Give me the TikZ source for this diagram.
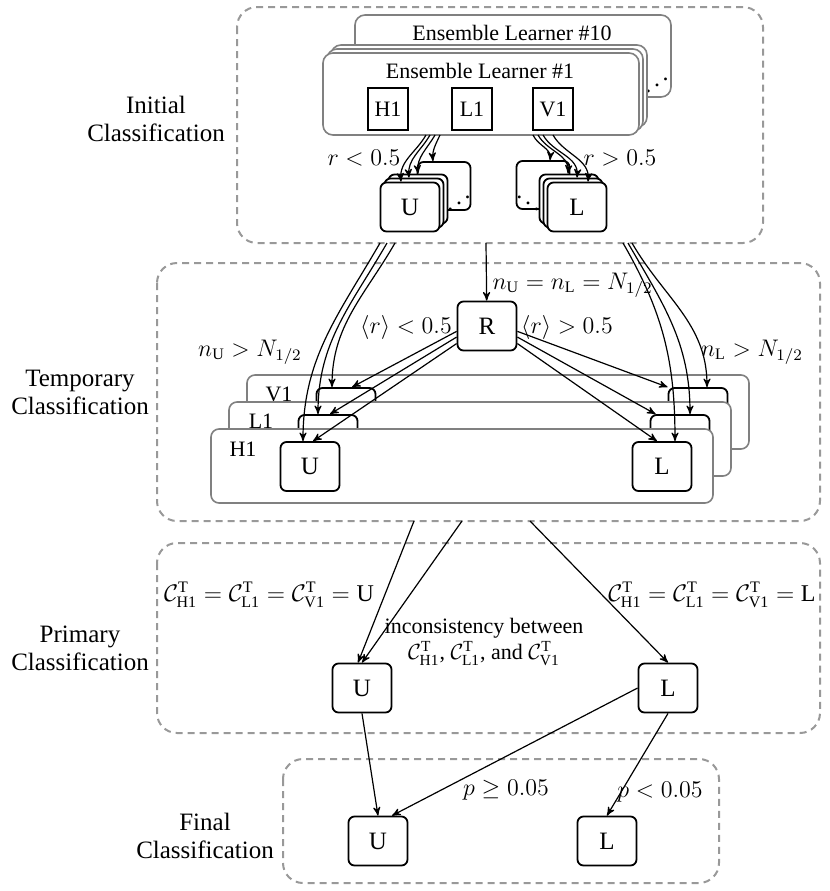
\documentclass[tikz,border=0pt]{standalone}
\usepackage{fontspec}
\setmainfont{Liberation Serif}
\usetikzlibrary{arrows}
\usetikzlibrary{calc}
\usetikzlibrary{positioning}
\tikzset{stage/.style={-, draw=gray!80, line width=1pt, dash pattern=on 3.5pt off 2.5pt, rounded corners=10pt}}
\tikzset{stagelabel/.style={align=center, font=\fontsize{12.5}{14}\selectfont}}
\tikzset{cls/.style={draw, line width=0.9pt, rounded corners=3pt, fill=white, minimum width=29.5pt, minimum height=24.5pt, inner sep=0pt, font=\fontsize{12.5}{14}\selectfont}}
\tikzset{ghost/.style={cls, minimum width=26.5pt, minimum height=24pt}}
\tikzset{learner/.style={draw=gray, line width=0.8pt, rounded corners=5pt, fill=white, minimum width=158pt, minimum height=41pt}}
\tikzset{feat/.style={draw, line width=0.9pt, fill=white, minimum width=20pt, minimum height=21pt, inner sep=0pt, font=\fontsize{11}{13}\selectfont}}
\tikzset{layer/.style={draw=gray, line width=0.8pt, rounded corners=4pt, fill=white, minimum width=251pt, minimum height=37pt}}
\tikzset{small/.style={font=\fontsize{11}{13}\selectfont}}
\tikzset{cond/.style={font=\fontsize{12}{13.5}\selectfont, inner sep=1pt}}
\newcommand{\clsT}[1]{\mathcal{C}^{\mathrm{T}}_{\mathrm{#1}}}

\begin{document}
\begin{tikzpicture}[x=0.5pt,y=0.5pt,->,>=stealth',semithick]
\useasboundingbox (0,0) rectangle (830,-891);

% stages
\draw[stage] (237,-7) rectangle (763,-243);
\draw[stage] (157,-263) rectangle (820,-521);
\draw[stage] (157,-543) rectangle (820,-733);
\draw[stage] (283,-759) rectangle (719,-883);
\node[stagelabel] (lab1) at (156,-119) {Initial\\Classification};
\node[stagelabel] (lab2) at (80,-392) {Temporary\\Classification};
\node[stagelabel] (lab3) at (80,-648) {Primary\\Classification};
\node[stagelabel] (lab4) at (205,-836) {Final\\Classification};

% ensemble learners
\node[learner] (E10) at (513,-56) {};
\node[small] (E10t) at (512,-33) {Ensemble Learner \#10};
\node[cond] (Edots) at (657,-79) {\reflectbox{$\ddots$}};
\foreach \d/\n in {8/c,4/b}
   \node[learner] (E1\n) at ({481+\d},{-94+\d}) {};
\node[learner] (E1) at (481,-94) {};
\node[small] (E1t) at (480,-71) {Ensemble Learner \#1};
\node[feat] (H1) at (388,-109) {H1};
\node[feat] (L1) at (472,-109) {L1};
\node[feat] (V1) at (553,-109) {V1};

% initial U / L
\node[ghost] (Ud) at (444,-186) {};
\node[cond] (Udots) at (459,-197) {\reflectbox{$\ddots$}};
\foreach \d/\n in {8/c,4/b}
   \node[cls] (U0\n) at ({410+\d},{-207+\d}) {};
\node[cls] (U0) at (410,-207) {U};
\node[ghost] (Ld) at (543,-185) {};
\node[cond] (Ldots) at (528,-197) {$\ddots$};
\foreach \d/\n in {8/c,4/b}
   \node[cls] (L0\n) at ({577-\d},{-207+\d}) {};
\node[cls] (L0) at (577,-207) {L};

\coordinate (ea1) at (426,-135);
\coordinate (ea2) at (430,-135);
\coordinate (ea3) at (435,-135);
\coordinate (ea4) at (440,-135);
\coordinate (eb1) at (533,-135);
\coordinate (eb2) at (538,-135);
\coordinate (eb3) at (543,-135);
\coordinate (eb4) at (553,-135);

\path (ea1) edge[out=-120,in=95] ($(U0.north)+(-9,0)$)
      (ea2) edge[out=-120,in=95] ($(U0b.north)+(-5,0)$)
      (ea3) edge[out=-120,in=95] (U0c.north)
      (ea4) edge[out=-115,in=95] ($(Ud.north)+(-11,0)$)
      (eb1) edge[out=-65,in=85] ($(Ld.north)+(7,0)$)
      (eb2) edge[out=-60,in=85] ($(L0c.north)+(-1,0)$)
      (eb3) edge[out=-60,in=85] ($(L0b.north)+(4,0)$)
      (eb4) edge[out=-60,in=85] ($(L0.north)+(11,0)$);
\node[cond] (rlt) at (364,-158) {$r<0.5$};
\node[cond] (rgt) at (620,-158) {$r>0.5$};

% temporary layers
\node[layer] (layv) at (498,-412) {};
\node[small] (labv) at (279,-394) {V1};
\node[cls] (Uv) at (346,-412.5) {};
\node[cls] (Lv) at (698,-412.5) {};
\node[layer] (layl) at (480,-439) {};
\node[small] (labl) at (261,-421) {L1};
\node[cls] (Ul) at (328,-439.5) {};
\node[cls] (Ll) at (680,-439.5) {};
\node[layer] (layh) at (462,-466) {};
\node[small] (labh) at (243,-449) {H1};
\node[cls] (Uh) at (310,-466.5) {U};
\node[cls] (Lh) at (662,-466.5) {L};

\node[cls] (R) at (487,-326) {R};
\coordinate (t0) at (486,-243);
\coordinate (tu1) at (380,-243);
\coordinate (tu2) at (387,-243);
\coordinate (tu3) at (395,-243);
\coordinate (tl1) at (623,-243);
\coordinate (tl2) at (628,-243);
\coordinate (tl3) at (632,-243);

\path (t0) edge (R)
      (tu1) edge[out=-120,in=90] ($(Uh.north)+(-7,0)$)
      (tu2) edge[out=-120,in=90] ($(Ul.north)+(-10,0)$)
      (tu3) edge[out=-120,in=90] ($(Uv.north)+(-14,0)$)
      (R.190) edge ($(Uv.north)+(6,0)$)
      (R.200) edge ($(Ul.north)+(2,0)$)
      (R.210) edge ($(Uh.north)+(3,0)$)
      (tl1) edge[out=-60,in=90] ($(Lh.north)+(13,0)$)
      (tl2) edge[out=-60,in=90] ($(Ll.north)+(10,0)$)
      (tl3) edge[out=-60,in=90] ($(Lv.north)+(9,0)$)
      (R.-10) edge (Lv.north west)
      (R.-20) edge ($(Ll.north west)+(6,0)$)
      (R.-30) edge ($(Lh.north)+(-5,0)$);
\node[cond, anchor=west] (neq) at (490,-285) {$n_{\mathrm{U}}=n_{\mathrm{L}}=N_{1/2}$};
\node[cond] (rmlt) at (406,-327) {$\langle r\rangle<0.5$};
\node[cond] (rmgt) at (567,-327) {$\langle r\rangle>0.5$};
\node[cond] (nugt) at (250,-352) {$n_{\mathrm{U}}>N_{1/2}$};
\node[cond] (nlgt) at (752,-352) {$n_{\mathrm{L}}>N_{1/2}$};

% primary
\node[cls] (Up) at (362,-688) {U};
\node[cls] (Lp) at (668,-688) {L};
\coordinate (p1) at (414,-521);
\coordinate (p2) at (462,-521);
\coordinate (p3) at (530,-521);
\path (p1) edge ($(Up.north)+(-4,0)$)
      (p2) edge (Up.north)
      (p3) edge (Lp.north);
\node[cond] (equ) at (269,-595) {$\clsT{H1}=\clsT{L1}=\clsT{V1}=\mathrm{U}$};
\node[cond] (eql) at (712,-595) {$\clsT{H1}=\clsT{L1}=\clsT{V1}=\mathrm{L}$};
\node[cond, align=center, font=\fontsize{11}{13}\selectfont] (incons) at (484,-642) {inconsistency between\\$\clsT{H1}$, $\clsT{L1}$, and $\clsT{V1}$};

% final
\node[cls] (Uf) at (378,-841) {U};
\node[cls] (Lf) at (607,-841) {L};
\path (Up.south) edge (Uf.north)
      (Lp.west) edge ($(Uf.north)+(14,0)$)
      (Lp.south) edge (Lf.north);
\node[cond] (pge) at (506,-790) {$p\geq 0.05$};
\node[cond] (plt) at (660,-792) {$p<0.05$};
\end{tikzpicture}
\end{document}
